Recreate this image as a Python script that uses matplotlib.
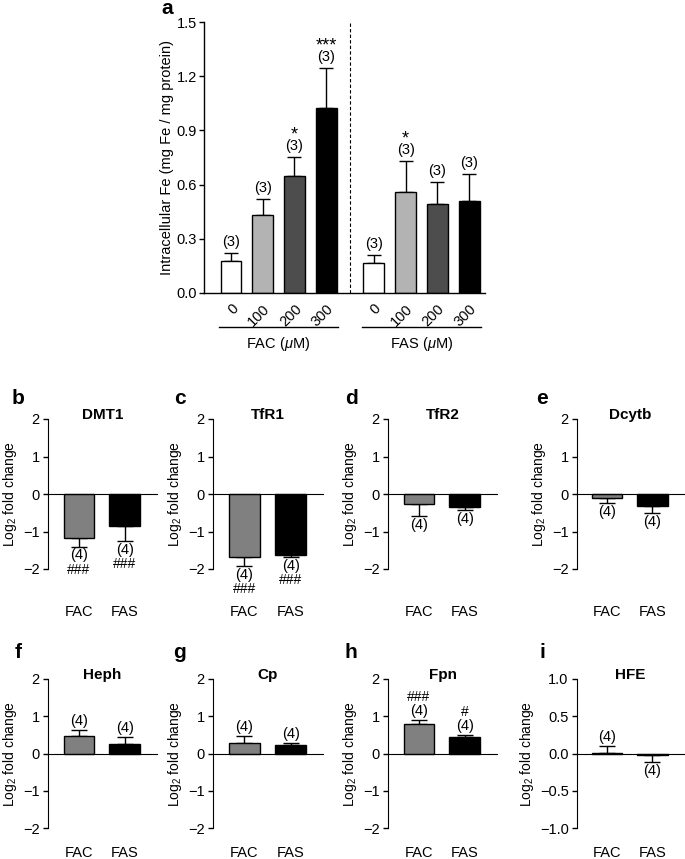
import matplotlib
matplotlib.use('Agg')
import matplotlib.pyplot as plt
import matplotlib.transforms as mtransforms

plt.rcParams['font.family'] = ['Liberation Sans', 'DejaVu Sans']
plt.rcParams['mathtext.fontset'] = 'custom'
plt.rcParams['mathtext.rm'] = 'Liberation Sans'
plt.rcParams['mathtext.it'] = 'Liberation Sans:italic'
plt.rcParams['axes.unicode_minus'] = True

# ---------------- data ----------------
conc_labels = ['0', '100', '200', '300']
fac_fe = [0.175, 0.43, 0.65, 1.025]
fac_fe_err = [0.045, 0.09, 0.105, 0.22]
fas_fe = [0.165, 0.56, 0.495, 0.51]
fas_fe_err = [0.045, 0.17, 0.12, 0.15]
fac_fe_n = ['(3)', '(3)', '(3)', '(3)']
fas_fe_n = ['(3)', '(3)', '(3)', '(3)']
fac_fe_sig = ['', '', '*', '***']
fas_fe_sig = ['', '*', '', '']

genes = ['DMT1', 'TfR1', 'TfR2', 'Dcytb', 'Heph', 'Cp', 'Fpn', 'HFE']
panel_letters = ['b', 'c', 'd', 'e', 'f', 'g', 'h', 'i']
groups = ['FAC', 'FAS']
fac_fc = [-1.17, -1.68, -0.27, -0.10, 0.48, 0.28, 0.78, 0.01]
fac_fc_err = [0.23, 0.25, 0.32, 0.13, 0.15, 0.19, 0.12, 0.09]
fas_fc = [-0.86, -1.62, -0.35, -0.33, 0.25, 0.23, 0.45, -0.015]
fas_fc_err = [0.40, 0.05, 0.08, 0.17, 0.20, 0.06, 0.06, 0.105]
fac_fc_n = ['(4)'] * 8
fas_fc_n = ['(4)'] * 8
fac_hash = ['###', '###', '', '', '', '', '###', '']
fas_hash = ['###', '###', '', '', '', '', '#', '']

# ---------------- layout helpers ----------------
W, H = 685, 859
fig = plt.figure(figsize=(W / 100, H / 100), dpi=100)


def rect(l, t, r, b):
    return [l / W, 1 - b / H, (r - l) / W, (b - t) / H]


def px2pt(p):
    return p * 0.72


# ---------------- panel a ----------------
axa = fig.add_axes(rect(204, 22, 485, 293))
a_colors = ['white', '#b3b3b3', '#4d4d4d', 'black']
fac_x = [0, 1, 2, 3]
fas_x = [4.5, 5.5, 6.5, 7.5]
for xs, vals, errs, ns, sigs in [(fac_x, fac_fe, fac_fe_err, fac_fe_n, fac_fe_sig),
                                  (fas_x, fas_fe, fas_fe_err, fas_fe_n, fas_fe_sig)]:
    axa.bar(xs, vals, width=0.66, color=a_colors, edgecolor='black', linewidth=1.0, zorder=2)
    axa.errorbar(xs, vals, yerr=[[0] * 4, errs], fmt='none', ecolor='black',
                 elinewidth=1.0, capsize=4.8, capthick=1.0, zorder=1)
    for x, v, e, n, s in zip(xs, vals, errs, ns, sigs):
        axa.annotate(n, (x, v + e), xytext=(0, px2pt(11)), textcoords='offset points',
                     ha='center', va='center', fontsize=10.5)
        if s:
            axa.annotate(s, (x, v + e), xytext=(0, px2pt(22)), textcoords='offset points',
                         ha='center', va='center', fontsize=13)

axa.set_xlim(-0.85, 8.0)
axa.set_ylim(0, 1.5)
axa.set_yticks([0, 0.3, 0.6, 0.9, 1.2, 1.5])
axa.set_yticklabels(['0.0', '0.3', '0.6', '0.9', '1.2', '1.5'])
axa.set_xticks(fac_x + fas_x)
axa.set_xticklabels(conc_labels + conc_labels, rotation=45, ha='right', va='top',
                    rotation_mode='anchor')
axa.tick_params(axis='x', length=0, pad=6, labelsize=10.5)
axa.tick_params(axis='y', length=3.5, width=1, labelsize=10.5, direction='out', pad=1.5)
for sp in ['top', 'right']:
    axa.spines[sp].set_visible(False)
axa.spines['left'].set_linewidth(1)
axa.spines['bottom'].set_linewidth(1)
axa.axvline(3.75, ls=(0, (3, 2)), lw=0.8, color='black')
axa.set_ylabel('Intracellular Fe (mg Fe / mg protein)', fontsize=10.5, labelpad=2)

trans_a = mtransforms.blended_transform_factory(axa.transData, axa.transAxes)
for xs, name in [(fac_x, 'FAC'), (fas_x, 'FAS')]:
    c = (xs[0] + xs[-1]) / 2
    axa.plot([c - 1.87, c + 1.87], [-0.124, -0.124], color='black', lw=1.0,
             transform=trans_a, clip_on=False)
    axa.text(c, -0.19, name + r' ($\mathit{\mu}$M)', transform=trans_a, ha='center',
             va='center', fontsize=10.5)

fig.text(167 / W, 1 - 8 / H, 'a', fontsize=15, fontweight='bold', ha='center', va='center')

# ---------------- gene panels ----------------
lefts = [48, 213, 388, 577]
rights = [157, 323, 497, 684]
rows = [(419, 569, 43), (679, 828, 25)]
letter_x = [18, 180, 351, 542]
letter_y = [398, 653]

for i, gene in enumerate(genes):
    r, c = divmod(i, 4)
    top, bot, lab_off = rows[r]
    ax = fig.add_axes(rect(lefts[c], top, rights[c], bot))
    xs = [0, 1]
    vals = [fac_fc[i], fas_fc[i]]
    errs = [fac_fc_err[i], fas_fc_err[i]]
    ns = [fac_fc_n[i], fas_fc_n[i]]
    hs = [fac_hash[i], fas_hash[i]]
    ax.bar(xs, vals, width=0.67, color=['#808080', 'black'], edgecolor='black',
           linewidth=1.0, zorder=2)
    for x, v, e, n, h in zip(xs, vals, errs, ns, hs):
        if v >= 0:
            yerr = [[0], [e]]
            sgn = 1
        else:
            yerr = [[e], [0]]
            sgn = -1
        ax.errorbar([x], [v], yerr=yerr, fmt='none', ecolor='black', elinewidth=1.0,
                    capsize=6.0, capthick=1.0, zorder=1)
        ax.annotate(n, (x, v + sgn * e), xytext=(0, sgn * px2pt(9)),
                    textcoords='offset points', ha='center', va='center', fontsize=10.5)
        if h:
            ax.annotate(h, (x, v + sgn * e), xytext=(0, sgn * px2pt(23)),
                        textcoords='offset points', ha='center', va='center', fontsize=10)
    ax.set_xlim(-0.674, 1.70)
    if gene == 'HFE':
        ax.set_ylim(-1, 1)
        ax.set_yticks([-1, -0.5, 0, 0.5, 1])
        ax.set_yticklabels(['\u22121.0', '\u22120.5', '0.0', '0.5', '1.0'])
    else:
        ax.set_ylim(-2, 2)
        ax.set_yticks([-2, -1, 0, 1, 2])
        ax.set_yticklabels(['\u22122', '\u22121', '0', '1', '2'])
    ax.set_xticks([])
    ax.spines['bottom'].set_position(('data', 0))
    for sp in ['top', 'right']:
        ax.spines[sp].set_visible(False)
    ax.tick_params(axis='y', length=3.5, width=1, labelsize=10.5, direction='out', pad=2.5)
    ax.set_ylabel('Log$_2$ fold change', fontsize=10, labelpad=3)
    ax.text(0.5, 1.0, gene, transform=ax.transAxes, ha='center', va='baseline',
            fontsize=11, fontweight='bold')
    trans = mtransforms.blended_transform_factory(ax.transData, ax.transAxes)
    for x, g in zip(xs, groups):
        ax.text(x, -lab_off / (bot - top), g, transform=trans, ha='center', va='center',
                fontsize=10.5)
    fig.text(letter_x[c] / W, 1 - letter_y[r] / H, panel_letters[i], fontsize=15,
             fontweight='bold', ha='center', va='center')

fig.savefig('out.png', dpi=100)
